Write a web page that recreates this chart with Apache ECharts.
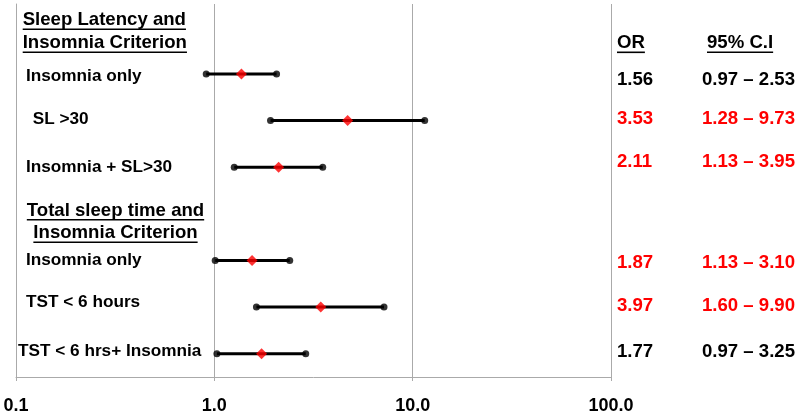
<!DOCTYPE html>
<html><head><meta charset="utf-8">
<script src="https://cdn.jsdelivr.net/npm/echarts@6/dist/echarts.min.js"></script>
<style>html,body{margin:0;padding:0;background:#fff}#c{width:800px;height:415px}</style>
</head><body><div id="c"></div>
<script>
// ---- data ----
const rowLabels = ['', 'Insomnia only', 'SL >30', 'Insomnia + SL>30', '', 'Insomnia only', 'TST < 6 hours', 'TST < 6 hrs+ Insomnia'];
const headerTitles = {0: ['Sleep Latency and', 'Insomnia Criterion'], 4: ['Total sleep time and', 'Insomnia Criterion']};
const columnHeaders = ['OR', '95% C.I'];
const dataRows = [1, 2, 3, 5, 6, 7];
const orPlotted = [1.37, 4.70, 2.11, 1.55, 3.44, 1.73];
const ciLowPlotted = [0.91, 1.92, 1.26, 1.01, 1.63, 1.03];
const ciHighPlotted = [2.06, 11.5, 3.52, 2.40, 7.17, 2.89];
const orText = ['1.56', '3.53', '2.11', '1.87', '3.97', '1.77'];
const ciLowText = ['0.97', '1.28', '1.13', '1.13', '1.60', '0.97'];
const ciHighText = ['2.53', '9.73', '3.95', '3.10', '9.90', '3.25'];
const xTicks = [0.1, 1, 10, 100];

// ---- styles / layout ----
const FONT = '"Liberation Sans", Arial, sans-serif';
const GRAY = '#aaaaaa';
const RED = '#ff0000';
const HEAD_SIZE = 18.6, LABEL_SIZE = 17.2, VALUE_SIZE = 18.6;
const headerLayout = {
  0: {dx: 6.7, align: 'left', dy: [-7, 16]},
  4: {dx: 99.5, align: 'center', dy: [-3, 19.5]}
};
const rowLayout = {
  1: {indent: 10, dy: 2, rdy: 6},
  2: {indent: 16.7, dy: -1.7, rdy: -1.7},
  3: {indent: 10, dy: 0, rdy: -5},
  5: {indent: 10, dy: 0, rdy: 2.4},
  6: {indent: 10, dy: -5, rdy: -0.7},
  7: {indent: 2, dy: -2, rdy: -1.7}
};
const measureCtx = document.createElement('canvas').getContext('2d');
function measure(text, size) {
  measureCtx.font = 'bold ' + size + 'px ' + FONT;
  return measureCtx.measureText(text).width;
}
function textEl(x, y, text, size, color, align) {
  return {type: 'text', x: x, y: y, style: {text: text, fontSize: size, fontWeight: 'bold', fontFamily: FONT, fill: color, align: align || 'left', verticalAlign: 'middle'}};
}
function underline(x0, y, w) {
  return {type: 'rect', shape: {x: x0, y: y + 8.2, width: w, height: 1.6}, style: {fill: '#000'}};
}

function renderLabels(params, api) {
  const i = api.value(1);
  const left = api.coord([xTicks[0], i]);
  const right = api.coord([xTicks[xTicks.length - 1], i]);
  const children = [];
  if (headerTitles[i]) {
    const cfg = headerLayout[i];
    headerTitles[i].forEach(function (t, k) {
      const w = measure(t, HEAD_SIZE);
      const cx = left[0] + cfg.dx;
      const y = left[1] + cfg.dy[k];
      const x0 = cfg.align === 'center' ? cx - w / 2 : cx;
      children.push(textEl(cx, y, t, HEAD_SIZE, '#000', cfg.align));
      children.push(underline(x0, y, w));
    });
    if (i === 0) {
      const y = left[1] + 16;
      const xs = [right[0] + 6, right[0] + 96];
      columnHeaders.forEach(function (t, k) {
        children.push(textEl(xs[k], y, t, HEAD_SIZE, '#000', 'left'));
        children.push(underline(xs[k], y, measure(t, HEAD_SIZE)));
      });
    }
  } else {
    const cfg = rowLayout[i];
    children.push(textEl(left[0] + cfg.indent, left[1] + cfg.dy, rowLabels[i], LABEL_SIZE, '#000', 'left'));
    const d = dataRows.indexOf(i);
    const color = parseFloat(ciLowText[d]) > 1 ? RED : '#000';
    const y = left[1] + cfg.rdy;
    children.push(textEl(right[0] + 6, y, orText[d], VALUE_SIZE, color, 'left'));
    children.push(textEl(right[0] + 91, y, ciLowText[d] + ' \u2013 ' + ciHighText[d], VALUE_SIZE, color, 'left'));
  }
  return {type: 'group', children: children};
}

function renderCI(params, api) {
  const a = api.coord([api.value(0), api.value(2)]);
  const b = api.coord([api.value(1), api.value(2)]);
  return {type: 'line', shape: {x1: a[0], y1: a[1], x2: b[0], y2: b[1]}, style: {stroke: '#000', lineWidth: 3}};
}

const chart = echarts.init(document.getElementById('c'));
chart.setOption({
  animation: false,
  backgroundColor: '#fff',
  grid: {left: 16, right: 189, top: 4, bottom: 38, containLabel: false},
  xAxis: {
    type: 'log', logBase: 10, min: xTicks[0], max: xTicks[xTicks.length - 1],
    axisLine: {show: true, lineStyle: {color: GRAY, width: 1}},
    axisTick: {show: true, length: 4, lineStyle: {color: GRAY}},
    minorTick: {show: false},
    splitLine: {show: true, lineStyle: {color: GRAY, width: 1}},
    axisLabel: {show: true, showMinLabel: true, showMaxLabel: true, margin: 20, color: '#000', fontSize: 18, fontWeight: 'bold', fontFamily: FONT,
      formatter: function (v) { return Number(v).toFixed(1); }}
  },
  yAxis: {
    type: 'category', inverse: true, boundaryGap: true,
    data: rowLabels.map(function (_, i) { return String(i); }),
    axisLine: {show: true, lineStyle: {color: GRAY}},
    axisTick: {show: false}, axisLabel: {show: false}, splitLine: {show: false}
  },
  series: [
    {type: 'custom', name: 'labels', renderItem: renderLabels, clip: false, silent: true, z: 10,
      encode: {x: 0, y: 1}, data: rowLabels.map(function (_, i) { return [xTicks[0], i]; })},
    {type: 'custom', name: 'ci', renderItem: renderCI, silent: true, z: 3,
      encode: {x: [0, 1], y: 2}, data: dataRows.map(function (r, k) { return [ciLowPlotted[k], ciHighPlotted[k], r]; })},
    {type: 'scatter', name: 'ends', symbol: 'circle', symbolSize: 7, itemStyle: {color: '#000'}, z: 4, silent: true,
      data: dataRows.flatMap(function (r, k) { return [[ciLowPlotted[k], r], [ciHighPlotted[k], r]]; })},
    {type: 'scatter', name: 'OR', symbol: 'diamond', symbolSize: [11, 11], itemStyle: {color: RED}, z: 5, silent: true,
      data: dataRows.map(function (r, k) { return [orPlotted[k], r]; })}
  ]
});
</script>
</body></html>
